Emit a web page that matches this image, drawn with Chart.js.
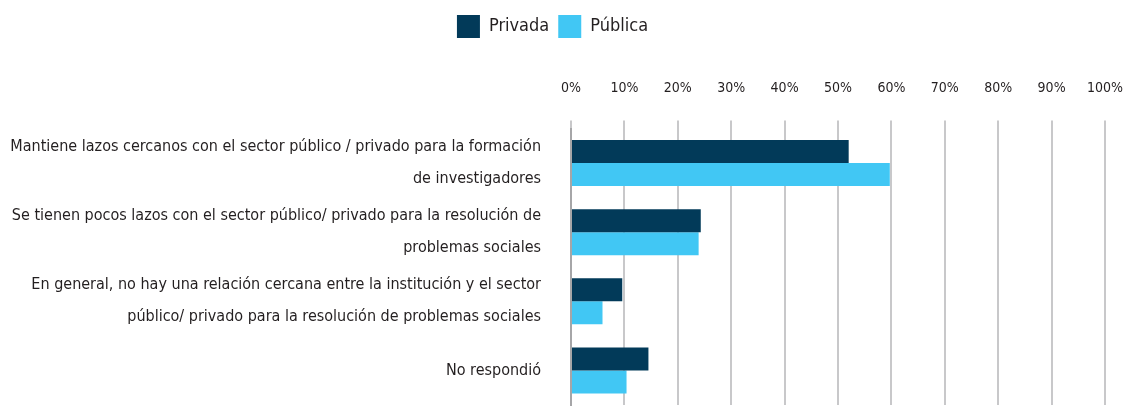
<!DOCTYPE html>
<html>
<head>
<meta charset="utf-8">
<script src="https://cdn.jsdelivr.net/npm/chart.js"></script>
<style>
    html, body { margin: 0; padding: 0; background: #fff; }
    .chart-container { width: 1123px; height: 411px; }
</style>
</head>
<body>
<div class="chart-container"><canvas id="relacionChart"></canvas></div>
<script>
// Data
const categories = [
    ['Mantiene lazos cercanos con el sector público / privado para la formación', 'de investigadores'],
    ['Se tienen pocos lazos con el sector público/ privado para la resolución de', 'problemas sociales'],
    ['En general, no hay una relación cercana entre la institución y el sector', 'público/ privado para la resolución de problemas sociales'],
    'No respondió'
];
const privadaValues = [52.0, 24.3, 9.6, 14.5];
const publicaValues = [59.7, 23.9, 5.9, 10.4];
const xTickValues = [0, 10, 20, 30, 40, 50, 60, 70, 80, 90, 100];

const fontFamily = "'DejaVu Sans Condensed', 'Liberation Sans Narrow', sans-serif";
const textColor = '#231F20';

document.addEventListener('DOMContentLoaded', function() {
    const ctx = document.getElementById('relacionChart');
    new Chart(ctx.getContext('2d'), {
        type: 'bar',
        data: {
            labels: categories,
            datasets: [
                {
                    label: 'Privada',
                    data: privadaValues,
                    backgroundColor: '#023A59',
                    categoryPercentage: 0.667,
                    barPercentage: 1.0
                },
                {
                    label: 'Pública',
                    data: publicaValues,
                    backgroundColor: '#41C7F4',
                    categoryPercentage: 0.667,
                    barPercentage: 1.0
                }
            ]
        },
        options: {
            indexAxis: 'y',
            responsive: true,
            maintainAspectRatio: false,
            animation: false,
            layout: {
                padding: { top: 6, right: 18, bottom: 6, left: 0 }
            },
            plugins: {
                legend: {
                    position: 'top',
                    labels: {
                        boxWidth: 23,
                        boxHeight: 23,
                        padding: 9,
                        color: textColor,
                        font: { family: fontFamily, size: 18 }
                    }
                },
                tooltip: { enabled: false }
            },
            scales: {
                x: {
                    position: 'top',
                    min: 0,
                    max: 100,
                    afterBuildTicks: function(scale) {
                        scale.ticks = xTickValues.map(function(v) { return { value: v }; });
                    },
                    afterFit: function(scale) {
                        scale.height = 80.5;
                        scale.paddingLeft = 0;
                        scale.paddingRight = 0;
                    },
                    ticks: {
                        padding: 24,
                        color: textColor,
                        font: { family: fontFamily, size: 14 },
                        maxRotation: 0,
                        autoSkip: false,
                        callback: function(value) {
                            return value + '%';
                        }
                    },
                    grid: {
                        color: '#C8C8CA',
                        lineWidth: 2,
                        drawTicks: true,
                        tickLength: 8
                    },
                    border: { display: false }
                },
                y: {
                    afterFit: function(scale) {
                        scale.width = 571;
                        scale.paddingTop = 0;
                        scale.paddingBottom = 0;
                    },
                    ticks: {
                        padding: 22,
                        autoSkip: false,
                        color: textColor,
                        font: { family: fontFamily, size: 16, lineHeight: 2.0 }
                    },
                    grid: { display: false },
                    border: { display: true, color: '#A6A6A8', width: 2 }
                }
            }
        }
    });
});
</script>
</body>
</html>
